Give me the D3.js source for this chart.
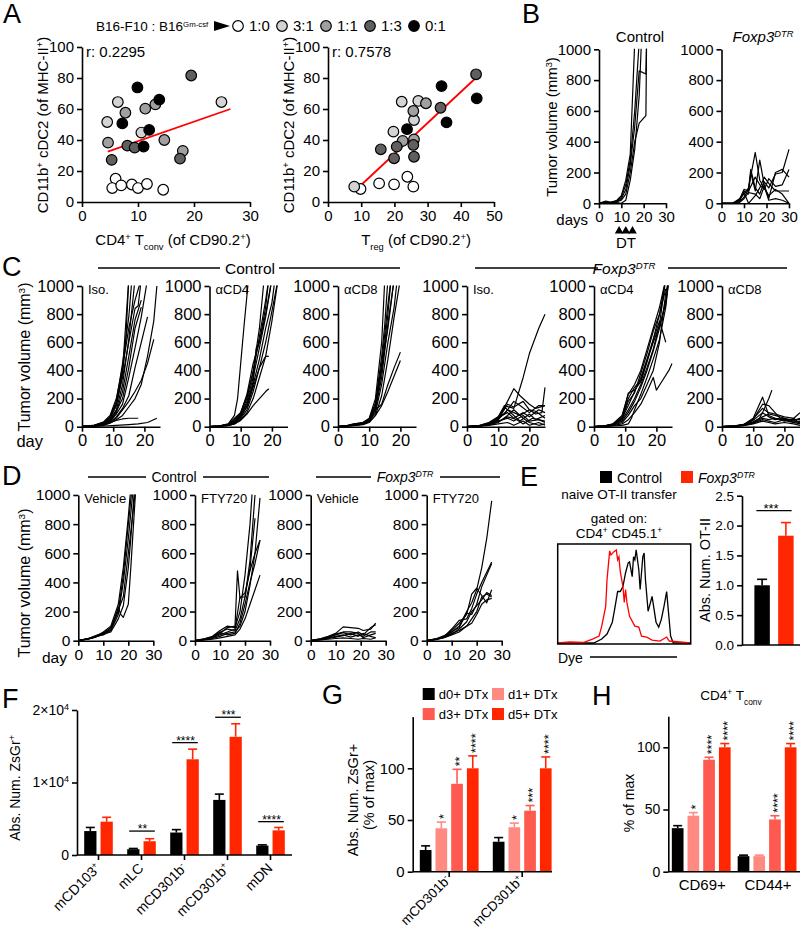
<!DOCTYPE html>
<html><head><meta charset="utf-8">
<script src="https://cdn.jsdelivr.net/npm/d3@7"></script>
<style>body{margin:0;background:#fff}svg{display:block}</style>
</head><body><script>
// ================= DATA =================
const ratioLabels = ["1:0","3:1","1:1","1:3","0:1"];
const ratioFills = ["#ffffff","#d4d4d4","#a0a0a0","#5f5f5f","#000000"];
// [x, y, ratioIndex]
const tconvPoints = [[6.0,15,0],[5.4,9,0],[7.0,10.7,0],[8.9,11.3,0],[10.0,9,0],[11.6,11.6,0],[14.5,7.9,0],
 [4.5,51.6,1],[6.4,64.5,1],[10.6,44.8,1],[24.9,64.5,1],
 [4.65,38.3,2],[7.75,57.6,2],[11.3,60.2,2],[13.1,63,2],[14.7,40,2],[18.0,33,2],
 [5.3,27.2,3],[8.1,36.4,3],[9.4,35.1,3],[17.5,28,3],[19.5,81.6,3],
 [9.9,73.9,4],[7.2,50.7,4],[12.0,46.5,4],[11.0,35.8,4],[13.8,66,4]];
const tregPoints = [[9.8,8.4,0],[15.4,12,0],[19.9,11.4,0],[23.9,16.3,0],[25.7,9.9,0],
 [7.9,9.9,1],[22.2,64.7,1],[19.7,45.4,1],[27.2,65.2,1],[25.9,52.9,1],
 [22.5,39.4,2],[29.5,63.7,2],[25.7,58.7,2],[25.9,40.4,2],
 [15.9,34,3],[20.7,35.7,3],[19.9,28.2,3],[25.7,36.8,3],[25.9,29.2,3],[33.9,60.8,3],[44.6,82.4,3],
 [23.8,47,4],[34.2,74.8,4],[35.7,51.4,4],[44.8,66.9,4]];
const tconvFit = [[4.6,32.5],[26.5,60]];
const tregFit = [[9.5,10],[44.5,80]];
const tconvR = "r: 0.2295", tregR = "r: 0.7578";

const volTicks = [0,200,400,600,800,1000];
const dtDays = [9,12,15];
// Panel B
const bControl = [
 [[0,0],[3,10],[5,5],[8,20],[10,50],[12,150],[14,320],[16,1050]],
 [[0,0],[3,15],[5,8],[8,15],[10,40],[12,120],[14,280],[16,600],[18,1050]],
 [[0,0],[3,5],[5,0],[8,10],[10,20],[12,60],[14,200],[16,400],[18,520],[21,570],[21.3,1050]],
 [[0,0],[3,8],[5,3],[8,10],[10,30],[12,90],[14,250],[16,500],[18,860],[21,840],[21.3,1050]],
 [[0,0],[3,5],[5,2],[8,5],[10,0],[12,20],[14,150],[16,350],[18,700],[19,1050]]];
const bDtr = [
 [[0,0],[5,0],[8,20],[10,80],[12,60],[13,200],[15,80],[17,280],[19,120],[21,30],[24,200],[27,220],[30,170]],
 [[0,0],[5,0],[8,30],[10,60],[12,100],[15,330],[17,150],[19,100],[21,50],[24,90],[27,60],[30,0]],
 [[0,0],[5,0],[8,10],[10,40],[12,90],[13,220],[15,100],[17,60],[19,140],[21,100],[24,190],[27,200],[30,350]],
 [[0,0],[5,0],[8,15],[10,70],[12,0],[15,50],[17,100],[19,170],[21,130],[24,80],[27,80],[30,80]],
 [[0,0],[6,0],[8,5],[10,30],[12,70],[15,60],[17,30],[19,110],[21,20],[24,30],[27,20],[30,0]],
 [[0,0],[5,0],[8,25],[10,90],[12,80],[15,170],[17,120],[19,90],[21,160],[24,110],[27,120],[30,220]]];
// Panel C
const cCtrlIso = [
 [[0,0],[4,10],[7,30],[9,60],[11,150],[13,400],[15,1050]],
 [[0,0],[4,8],[7,25],[9,50],[11,120],[13,300],[15,620],[17,1050]],
 [[0,0],[4,12],[7,35],[9,80],[11,200],[13,420],[15,700],[17,900],[19,1050]],
 [[0,0],[4,10],[7,30],[9,70],[11,160],[13,350],[15,600],[17,840],[18,860],[19,1050]],
 [[0,0],[4,10],[7,20],[9,40],[11,100],[13,250],[15,500],[17,760],[19,900]],
 [[0,0],[4,8],[7,20],[9,50],[11,110],[13,200],[15,420],[17,700],[19,850]],
 [[0,0],[4,5],[7,18],[9,40],[11,90],[13,160],[15,350],[17,560],[19,780],[21,1050]],
 [[0,0],[4,6],[7,15],[9,35],[11,70],[13,130],[15,220],[17,420],[19,600],[21,780]],
 [[0,0],[4,5],[7,12],[9,30],[11,60],[13,120],[15,180],[17,250],[19,330],[21,450],[23,620]],
 [[0,0],[4,5],[7,10],[9,25],[11,50],[13,80],[15,140],[17,200],[19,300],[21,500],[23,750],[24,1000]],
 [[0,0],[4,5],[7,15],[9,30],[11,45],[13,55],[15,60],[18,60]],
 [[0,0],[7,5],[11,10],[15,15],[18,20],[21,30],[24,60]],
 [[0,0],[4,10],[7,25],[9,60],[11,150],[13,380],[14,600],[15,1050]],
 [[0,0],[4,10],[7,30],[9,70],[11,180],[13,450],[15,780],[16,1050]]];
const cCtrlCD4 = [
 [[0,0],[3,5],[6,20],[8,80],[9,200],[10,450],[11,700],[12.5,1050]],
 [[0,0],[3,5],[6,15],[8,40],[10,90],[12,200],[14,400],[16,700],[17.5,1050]],
 [[0,0],[3,5],[6,15],[8,50],[10,100],[12,230],[14,450],[16,600],[18,850],[19,1050]],
 [[0,0],[3,4],[6,12],[8,35],[10,80],[12,180],[14,350],[16,560],[18,780],[20,1050]],
 [[0,0],[3,4],[6,12],[8,30],[10,70],[12,150],[14,300],[16,480],[18,700],[20,880],[21,1050]],
 [[0,0],[3,3],[6,10],[8,25],[10,60],[12,120],[14,250],[16,420],[18,600],[20,820],[22,1050]],
 [[0,0],[3,3],[6,10],[8,20],[10,50],[12,100],[14,200],[16,350],[18,500],[20,750],[22,1050]],
 [[0,0],[3,3],[6,8],[8,20],[10,45],[12,90],[14,150],[16,200],[18,250],[19,270]],
 [[0,0],[3,5],[6,15],[8,30],[10,70],[12,140],[14,280],[16,420],[18,500],[19,500]],
 [[0,0],[3,4],[6,12],[8,30],[10,90],[12,160],[14,320],[15,560],[16,600],[18,800],[20,1050]],
 [[0,0],[3,5],[6,18],[8,60],[10,100],[12,220],[14,380],[16,640],[18,900],[19,1050]]];
const cCtrlCD8 = [
 [[0,0],[3,10],[5,20],[8,30],[10,60],[12,200],[14,600],[15,1050]],
 [[0,0],[3,8],[5,15],[8,25],[10,50],[12,150],[14,450],[16,870],[17,1050]],
 [[0,0],[3,5],[5,12],[8,20],[10,45],[12,120],[14,350],[16,730],[18,1050]],
 [[0,0],[3,5],[5,12],[8,20],[10,40],[12,100],[14,300],[16,600],[18,850],[19,1050]],
 [[0,0],[3,6],[5,15],[8,25],[10,50],[12,130],[14,400],[16,800],[17,1050]],
 [[0,0],[3,5],[5,10],[8,18],[10,35],[12,80],[14,220],[16,480],[18,780],[20,1050]],
 [[0,0],[3,5],[5,10],[8,18],[10,40],[12,120],[14,160],[16,300],[18,420],[20,530]],
 [[0,0],[3,4],[5,8],[8,15],[10,30],[12,80],[14,150],[16,250],[18,360],[20,470]],
 [[0,0],[3,7],[5,18],[8,30],[10,55],[12,170],[14,500],[15,730],[16,1050]],
 [[0,0],[3,6],[5,14],[8,22],[10,45],[12,140],[14,420],[16,700],[18,1050]]];
const cDtrIso = [
 [[0,0],[4,10],[7,30],[10,70],[12,150],[15,130],[18,350],[20,520],[23,700],[25,800]],
 [[0,0],[4,8],[7,25],[10,60],[13,180],[15,270],[17,220],[20,160],[22,130],[25,150]],
 [[0,0],[4,5],[7,20],[10,50],[13,120],[15,100],[17,80],[20,120],[22,90],[24,100],[25,280]],
 [[0,0],[4,6],[7,20],[10,60],[12,90],[15,180],[17,150],[20,100],[23,150],[25,150]],
 [[0,0],[4,5],[7,15],[10,40],[13,60],[15,40],[18,80],[20,40],[23,50],[25,30]],
 [[0,0],[4,5],[7,18],[10,45],[12,140],[15,80],[17,40],[20,90],[22,50],[25,80]],
 [[0,0],[4,5],[7,12],[10,30],[13,80],[15,120],[18,60],[20,30],[23,10],[25,20]],
 [[0,0],[4,6],[7,20],[10,70],[13,100],[15,60],[18,100],[20,70],[23,120],[25,100]],
 [[0,0],[4,4],[7,10],[10,20],[13,30],[15,10],[18,40],[20,10],[23,30],[25,10]],
 [[0,0],[4,5],[7,15],[10,50],[13,160],[15,140],[18,180],[20,120],[22,110],[25,60]],
 [[0,0],[4,5],[7,14],[10,35],[13,70],[16,50],[18,20],[21,60],[25,40]]];
const cDtrCD4 = [
 [[0,0],[3,5],[6,20],[9,80],[11,230],[13,300],[15,400],[17,550],[19,700],[21,850],[23,1050]],
 [[0,0],[3,5],[6,15],[9,60],[11,150],[13,250],[15,350],[17,480],[19,620],[21,800],[23,1050]],
 [[0,0],[3,4],[6,12],[9,50],[11,120],[13,200],[15,300],[17,420],[19,550],[21,730],[23,1050]],
 [[0,0],[3,5],[6,15],[9,70],[11,240],[13,260],[15,320],[17,460],[19,620],[21,750],[23,600]],
 [[0,0],[3,4],[6,10],[9,30],[11,80],[13,150],[15,200],[17,300],[19,400],[21,600],[23,950],[24,1050]],
 [[0,0],[3,3],[6,8],[9,20],[11,50],[13,100],[15,160],[17,250],[19,350],[20,260],[22,330],[24,400],[25,450]],
 [[0,0],[3,4],[6,12],[9,40],[11,100],[13,180],[15,280],[17,400],[19,540],[21,700],[23,900],[24,1050]],
 [[0,0],[3,5],[6,14],[9,55],[11,180],[13,240],[15,380],[17,520],[19,680],[21,800],[23,980]],
 [[0,0],[3,2],[6,5],[9,10],[11,20],[12,60],[13,120],[15,230],[17,350],[19,480],[21,620],[23,850],[24,1050]],
 [[0,0],[3,5],[6,16],[9,65],[11,200],[13,280],[15,330],[17,470],[19,600],[21,720],[23,870],[24,1050]]];
const cDtrCD8 = [
 [[0,0],[4,5],[7,15],[10,60],[13,210],[15,80],[17,60],[20,50],[23,40],[25,30]],
 [[0,0],[4,5],[7,15],[10,50],[13,160],[15,150],[17,100],[19,50],[21,40],[25,20]],
 [[0,0],[4,5],[7,12],[10,30],[12,60],[13,100],[15,200],[16,260]],
 [[0,0],[4,4],[7,10],[10,30],[13,60],[15,50],[17,60],[20,40],[23,60],[25,100]],
 [[0,0],[4,5],[7,14],[10,45],[13,100],[15,70],[17,50],[20,60],[23,30],[25,40]],
 [[0,0],[4,4],[7,10],[10,25],[13,50],[15,40],[17,30],[20,50],[23,50],[25,50]],
 [[0,0],[4,6],[7,16],[10,55],[13,130],[15,100],[17,90],[20,70],[23,60],[25,20]],
 [[0,0],[4,3],[7,8],[10,20],[13,40],[15,30],[17,20],[20,30],[23,20],[25,10]],
 [[0,0],[4,5],[7,14],[10,35],[13,70],[15,90],[17,80],[20,60],[23,45],[25,60]]];
// Panel D
const dCtrlVeh = [
 [[0,0],[4,15],[7,30],[10,40],[13,70],[16,180],[18,400],[20,700],[22,1050]],
 [[0,0],[4,15],[7,30],[10,50],[13,90],[16,200],[18,450],[20,800],[21.5,1050]],
 [[0,0],[4,12],[7,25],[10,45],[13,60],[16,150],[18,240],[20,500],[21,700],[22.5,1050]],
 [[0,0],[4,12],[7,25],[10,50],[13,80],[16,230],[17,180],[18,160],[20,250],[21,500],[23,1050]],
 [[0,0],[4,10],[7,28],[10,60],[13,100],[16,250],[18,500],[20,850],[21,1050]],
 [[0,0],[4,14],[7,35],[10,55],[13,70],[16,210],[18,300],[20,600],[22,900],[23,1050]]];
const dCtrlFty = [
 [[0,0],[4,15],[7,30],[10,70],[13,100],[16,90],[18,200],[20,450],[22,800],[23,1050]],
 [[0,0],[4,10],[7,20],[10,40],[13,60],[16,80],[18,300],[20,300],[22,550],[24,1000]],
 [[0,0],[4,10],[7,25],[10,60],[13,80],[16,70],[18,150],[20,300],[22,500],[24,840]],
 [[0,0],[4,8],[7,15],[10,30],[13,50],[16,60],[18,100],[20,200],[22,380],[24,600],[26,980]],
 [[0,0],[4,5],[7,10],[10,20],[13,30],[16,40],[18,80],[20,150],[22,250],[24,350],[26,450]],
 [[0,0],[4,10],[7,20],[10,50],[13,90],[16,100],[17,480],[18,290],[20,330],[22,480],[24,600],[26,690]],
 [[0,0],[4,12],[7,25],[10,55],[13,40],[16,50],[18,120],[20,250],[22,400],[24,530],[26,690]]];
const dDtrVeh = [
 [[0,0],[4,15],[7,30],[10,50],[13,95],[16,90],[19,85],[21,70],[24,80],[26,120]],
 [[0,0],[4,12],[7,25],[10,40],[13,55],[16,40],[19,60],[21,40],[24,90],[26,110]],
 [[0,0],[4,10],[7,20],[10,30],[13,40],[16,25],[19,40],[21,30],[24,60],[26,60]],
 [[0,0],[4,8],[7,15],[10,25],[13,35],[16,50],[19,30],[21,50],[24,30],[26,20]],
 [[0,0],[4,10],[7,22],[10,45],[13,60],[16,60],[19,50],[21,20],[24,40],[26,50]],
 [[0,0],[4,5],[7,10],[10,15],[13,20],[16,15],[19,10],[21,15],[24,10],[26,20]]];
const dDtrFty = [
 [[0,0],[4,15],[7,35],[10,60],[13,100],[16,200],[18,260],[20,350],[22,500],[24,700],[26,960]],
 [[0,0],[4,12],[7,30],[10,80],[13,140],[16,150],[18,220],[20,320],[22,400],[24,470],[26,540]],
 [[0,0],[4,10],[7,25],[10,60],[13,90],[16,190],[18,180],[20,250],[22,370],[24,450],[26,530]],
 [[0,0],[4,10],[7,25],[10,50],[13,70],[16,100],[18,150],[20,200],[22,300],[24,320],[26,300]],
 [[0,0],[4,8],[7,20],[10,40],[13,60],[16,100],[18,120],[20,180],[22,250],[24,280],[26,290]],
 [[0,0],[4,12],[7,28],[10,70],[13,120],[16,180],[18,320],[20,360],[22,310],[24,260],[26,350]],
 [[0,0],[4,10],[7,22],[10,45],[13,80],[16,130],[18,200],[20,240],[22,280],[24,330],[26,310]]];
// Panel E histogram (dye fraction, normalized count)
const histRed = [[0,0],[0.09,0.01],[0.19,0.005],[0.26,0.04],[0.31,0.07],[0.33,0.17],[0.36,0.37],[0.37,0.64],[0.39,0.93],[0.40,0.89],[0.42,0.92],[0.44,0.94],[0.45,0.84],[0.46,0.87],[0.47,0.72],[0.49,0.57],[0.50,0.41],[0.51,0.54],[0.52,0.41],[0.54,0.27],[0.58,0.17],[0.61,0.16],[0.63,0.07],[0.67,0.06],[0.71,0.03],[0.77,0.02],[0.82,0.06],[0.84,0.02],[1,0]];
const histBlack = [[0,0],[0.27,0],[0.33,0.04],[0.37,0.09],[0.41,0.21],[0.43,0.36],[0.45,0.52],[0.47,0.52],[0.49,0.57],[0.51,0.71],[0.53,0.81],[0.54,0.82],[0.56,0.67],[0.57,0.87],[0.58,0.84],[0.59,0.94],[0.61,0.74],[0.62,0.54],[0.64,0.87],[0.65,0.91],[0.66,0.64],[0.68,0.32],[0.71,0.47],[0.74,0.21],[0.76,0.16],[0.78,0.24],[0.80,0.37],[0.82,0.52],[0.83,0.37],[0.85,0.07],[0.87,0],[1,0]];
const eGroups = ["Control","Foxp3DTR"];
const eValues = [1.0, 1.83];
const eErr = [0.1, 0.22];
const eSig = "***";
const eTicks = [0,0.5,1.0,1.5,2.0,2.5];
// Panel F
const fCategories = ["mCD103+","mLC","mCD301b-","mCD301b+","mDN"];
const fControl = [3300,800,3100,7600,1300];
const fControlErr = [500,100,400,800,100];
const fDtr = [4600,1900,13200,16300,3400];
const fDtrErr = [600,350,1400,1800,400];
const fSig = ["","**","****","***","****"];
const fSigLevel = [0,3300,15500,19000,4600];
const fTicks = [0,10000,20000];
// Panel G
const gSeries = ["d0+ DTx","d1+ DTx","d3+ DTx","d5+ DTx"];
const seriesColors = ["#000000","#ff8a82","#ff5a4f","#ff2600"];
const gCategories = ["mCD301b-","mCD301b+"];
const gValues = [[21,42,85,100],[29,43,59,100]];
const gErr = [[4,6,14,12],[4,4,5,11]];
const gSig = [["","*","**","****"],["","*","***","****"]];
// Panel H
const hCategories = ["CD69+","CD44+"];
const hValues = [[35,45,90,100],[12.5,12.5,42,100]];
const hErr = [[2,2.5,2,3],[0.8,0.8,3,3]];
const hSig = [["","*","****","****"],["","","****","****"]];
const RED = "#ff2600";

// ================= DRAWING =================
const FONT = "'Liberation Sans', Arial, Helvetica, sans-serif";
const svg = d3.select("body").append("svg").attr("width",800).attr("height",930).attr("font-family",FONT);
let clipN = 0;

function rtext(x, y, parts, o = {}) {
  const fs = o.fs || 14;
  const t = svg.append("text").attr("x", x).attr("y", y).attr("font-size", fs)
    .attr("text-anchor", o.anchor || "start").attr("fill", "#000");
  if (o.rotate != null) t.attr("transform", `rotate(${o.rotate},${x},${y})`);
  if (o.italic) t.attr("font-style", "italic");
  (typeof parts === "string" ? [parts] : parts).forEach(p => {
    if (typeof p === "string") t.append("tspan").text(p);
    else {
      const s = t.append("tspan").text(p.t);
      const sc = p.scale || 0.62;
      if (p.sup) s.attr("baseline-shift", "super").attr("font-size", fs * sc);
      if (p.sub) s.attr("baseline-shift", "sub").attr("font-size", fs * sc);
      if (p.i) s.attr("font-style", "italic");
    }
  });
  return t;
}
function signParts(label) {
  const last = label.slice(-1);
  if (last === "+" || last === "-") return [label.slice(0, -1), {t: last, sup: true}];
  return [label];
}
function styleAxis(g, fs) {
  g.attr("font-family", FONT).attr("font-size", fs);
  g.select(".domain").attr("stroke", "#000").attr("stroke-width", 1.6);
  g.selectAll(".tick line").attr("stroke", "#000").attr("stroke-width", 1.6);
  g.selectAll(".tick text").attr("fill", "#000");
}
function leftAxis(scale, x, ticks, fs, fmt) {
  const a = d3.axisLeft(scale).tickValues(ticks).tickSize(5).tickSizeOuter(0).tickPadding(3).tickFormat(fmt || d3.format("d"));
  const g = svg.append("g").attr("transform", `translate(${x},0)`).call(a);
  styleAxis(g, fs); return g;
}
function bottomAxis(scale, y, ticks, fs, fmt) {
  const a = d3.axisBottom(scale).tickValues(ticks).tickSize(5).tickSizeOuter(0).tickPadding(3).tickFormat(fmt || d3.format("d"));
  const g = svg.append("g").attr("transform", `translate(0,${y})`).call(a);
  styleAxis(g, fs); return g;
}
function hline(x1, x2, y, w = 1.3) {
  svg.append("line").attr("x1", x1).attr("x2", x2).attr("y1", y).attr("y2", y).attr("stroke", "#000").attr("stroke-width", w);
}
function panelLetter(l, x, y) { rtext(x, y, l, {fs: 27}); }

// ---------- A ----------
panelLetter("A", 3, 23);
rtext(96, 31, ["B16-F10 : B16", {t: "Gm-csf", sup: true, scale: 0.58}], {fs: 13.5});
svg.append("path").attr("d", "M214,21 L230,26 L214,31 Z").attr("fill", "#000");
const legX = [238, 282, 326, 370, 414];
ratioLabels.forEach((r, i) => {
  svg.append("circle").attr("cx", legX[i]).attr("cy", 26).attr("r", 5.3)
    .attr("fill", ratioFills[i]).attr("stroke", "#000").attr("stroke-width", 1.2);
  rtext(legX[i] + 11, 31, r, {fs: 15});
});
function scatter(pts, fit, r, x0, w, xMax, xTicks, xlab, xlabX) {
  const x = d3.scaleLinear().domain([0, xMax]).range([x0, x0 + w]);
  const y = d3.scaleLinear().domain([0, 100]).range([202, 47]);
  leftAxis(y, x0, [0, 20, 40, 60, 80, 100], 15);
  bottomAxis(x, 202, xTicks, 15);
  svg.append("line").attr("x1", x(fit[0][0])).attr("y1", y(fit[0][1])).attr("x2", x(fit[1][0])).attr("y2", y(fit[1][1]))
    .attr("stroke", "#ff0000").attr("stroke-width", 1.8);
  svg.append("g").selectAll("circle").data(pts).join("circle")
    .attr("cx", d => x(d[0])).attr("cy", d => y(d[1])).attr("r", 5.3)
    .attr("fill", d => ratioFills[d[2]]).attr("stroke", "#000").attr("stroke-width", 1.2);
  rtext(x0 + 4, 57, r, {fs: 15});
  rtext(x0 - 34, 125, ["CD11b", {t: "+", sup: true}, " cDC2 (of MHC-II", {t: "+", sup: true}, ")"], {fs: 15, anchor: "middle", rotate: -90});
  rtext(xlabX, 245, xlab, {fs: 15, anchor: "middle"});
}
scatter(tconvPoints, tconvFit, tconvR, 82, 168, 30, [0, 10, 20, 30],
  ["CD4", {t: "+", sup: true}, " T", {t: "conv", sub: true}, " (of CD90.2", {t: "+", sup: true}, ")"], 173);
scatter(tregPoints, tregFit, tregR, 328, 166, 50, [0, 10, 20, 30, 40, 50],
  ["T", {t: "reg", sub: true}, " (of CD90.2", {t: "+", sup: true}, ")"], 416);

// ---------- growth helper ----------
function growth(o) {
  const x = d3.scaleLinear().domain([0, o.xMax]).range([o.x0, o.x0 + o.w]);
  const y = d3.scaleLinear().domain([0, 1000]).range([o.yBot, o.yTop]);
  const id = "clip" + (clipN++);
  svg.append("clipPath").attr("id", id).append("rect").attr("x", o.x0).attr("y", o.yTop - 0.5)
    .attr("width", o.w + 4).attr("height", o.yBot - o.yTop + 1);
  svg.append("g").attr("clip-path", `url(#${id})`).selectAll("path").data(o.lines).join("path")
    .attr("d", d3.line().x(d => x(d[0])).y(d => y(d[1])))
    .attr("fill", "none").attr("stroke", "#000").attr("stroke-width", 1.2).attr("stroke-linejoin", "round");
  leftAxis(y, o.x0, volTicks, o.fs);
  bottomAxis(x, o.yBot, o.xTicks, o.fs);
  if (o.label) rtext(o.x0 + 6, o.yTop + 7.5, o.label, {fs: 13});
  return {x, y};
}
const volLabel = ["Tumor volume (mm", {t: "3", sup: true}, ")"];
const dtrTitle = ["Foxp3", {t: "DTR", sup: true}];

// ---------- B ----------
panelLetter("B", 522, 23);
const bc = growth({x0: 599, w: 67, xMax: 30, yTop: 49.3, yBot: 203.3, xTicks: [0, 10, 20, 30], lines: bControl, fs: 15});
growth({x0: 721.5, w: 67.5, xMax: 30, yTop: 49.3, yBot: 203.3, xTicks: [0, 10, 20, 30], lines: bDtr, fs: 15});
rtext(640, 42, "Control", {fs: 15, anchor: "middle"});
rtext(763, 42, dtrTitle, {fs: 15, anchor: "middle", italic: true});
rtext(557, 127, volLabel, {fs: 15, anchor: "middle", rotate: -90});
rtext(588, 225, "days", {fs: 15, anchor: "end"});
svg.append("g").selectAll("path").data(dtDays).join("path")
  .attr("transform", d => `translate(${bc.x(d)},231)`).attr("d", d3.symbol(d3.symbolTriangle, 32)).attr("fill", "#000");
rtext(626, 248, "DT", {fs: 15, anchor: "middle"});

// ---------- C ----------
panelLetter("C", 2, 276);
const cAxes = [82, 209.5, 338, 467, 594, 722];
const cLines = [cCtrlIso, cCtrlCD4, cCtrlCD8, cDtrIso, cDtrCD4, cDtrCD8];
const cLabels = ["Iso.", "αCD4", "αCD8", "Iso.", "αCD4", "αCD8"];
cAxes.forEach((x0, i) => growth({x0, w: 78, xMax: 25, yTop: 286, yBot: 426.7, xTicks: [0, 10, 20], lines: cLines[i], label: cLabels[i], fs: 16.5}));
hline(98, 220, 268); rtext(250, 274, "Control", {fs: 15.5, anchor: "middle"}); hline(279, 400, 268);
hline(475, 598, 268); rtext(624, 274, dtrTitle, {fs: 15.5, anchor: "middle", italic: true}); hline(668, 787, 268);
rtext(30, 357, volLabel, {fs: 16, anchor: "middle", rotate: -90});
rtext(43, 447, "day", {fs: 16.5, anchor: "end"});

// ---------- D ----------
panelLetter("D", 2, 485);
const dAxes = [78.3, 195, 310.7, 426.7];
const dLines = [dCtrlVeh, dCtrlFty, dDtrVeh, dDtrFty];
const dLabels = ["Vehicle", "FTY720", "Vehicle", "FTY720"];
dAxes.forEach((x0, i) => growth({x0, w: 75, xMax: 30, yTop: 495, yBot: 640.7, xTicks: [0, 10, 20, 30], lines: dLines[i], label: dLabels[i], fs: 15.5}));
hline(88, 146, 477); rtext(174, 482, "Control", {fs: 14, anchor: "middle"}); hline(203, 269, 477);
hline(316, 371, 477); rtext(405, 482, dtrTitle, {fs: 14, anchor: "middle", italic: true}); hline(440, 500, 477);
rtext(30, 583, volLabel, {fs: 16, anchor: "middle", rotate: -90});
rtext(67, 663, "day", {fs: 15.5, anchor: "end"});

// ---------- E ----------
panelLetter("E", 520, 486);
svg.append("rect").attr("x", 600).attr("y", 471).attr("width", 12).attr("height", 12).attr("fill", "#000");
rtext(617, 483, "Control", {fs: 14});
svg.append("rect").attr("x", 681).attr("y", 471).attr("width", 12).attr("height", 12).attr("fill", RED);
rtext(698, 483, dtrTitle, {fs: 14, italic: true});
rtext(619, 499, "naive OT-II transfer", {fs: 13.5, anchor: "middle"});
rtext(619, 523, "gated on:", {fs: 13.5, anchor: "middle"});
rtext(619, 538, ["CD4", {t: "+", sup: true}, " CD45.1", {t: "+", sup: true}], {fs: 13.5, anchor: "middle"});
const hx = d3.scaleLinear().domain([0, 1]).range([558, 690.5]);
const hy = d3.scaleLinear().domain([0, 1]).range([643, 544]);
const hl = d3.line().x(d => hx(d[0])).y(d => hy(d[1]));
svg.append("path").attr("d", hl(histBlack)).attr("fill", "none").attr("stroke", "#000").attr("stroke-width", 1.3);
svg.append("path").attr("d", hl(histRed)).attr("fill", "none").attr("stroke", "#ff0000").attr("stroke-width", 1.3);
svg.append("rect").attr("x", 557.7).attr("y", 544).attr("width", 133).attr("height", 100)
  .attr("fill", "none").attr("stroke", "#000").attr("stroke-width", 1.5);
rtext(558, 663, "Dye", {fs: 14});
hline(590, 677, 657, 1.3);
const ey = d3.scaleLinear().domain([0, 2.5]).range([645, 495.7]);
const ex = d3.scaleBand().domain(eGroups).range([752, 796]).paddingInner(0.35).paddingOuter(0.1);
function errBar(cx, yVal, yTop, color, capW) {
  svg.append("line").attr("x1", cx).attr("x2", cx).attr("y1", yVal).attr("y2", yTop).attr("stroke", color).attr("stroke-width", 1.6);
  svg.append("line").attr("x1", cx - capW / 2).attr("x2", cx + capW / 2).attr("y1", yTop).attr("y2", yTop).attr("stroke", color).attr("stroke-width", 1.6);
}
eGroups.forEach((gname, i) => {
  const c = i === 0 ? "#000" : RED;
  errBar(ex(gname) + ex.bandwidth() / 2, ey(eValues[i]), ey(eValues[i] + eErr[i]), c, 10);
  svg.append("rect").attr("x", ex(gname)).attr("y", ey(eValues[i])).attr("width", ex.bandwidth())
    .attr("height", ey(0) - ey(eValues[i])).attr("fill", c);
});
leftAxis(ey, 742, eTicks, 13.5, d3.format(".1f"));
hline(742, 800, 645, 1.6);
hline(ex(eGroups[0]) + 2, ex(eGroups[1]) + ex.bandwidth() - 2, ey(2.25), 1.3);
rtext(771, ey(2.25) + 2, eSig, {fs: 13, anchor: "middle"});
rtext(710, 570, "Abs. Num. OT-II", {fs: 14.5, anchor: "middle", rotate: -90});

// ---------- F ----------
panelLetter("F", 2, 708);
const fy = d3.scaleLinear().domain([0, 20000]).range([855, 710]);
const fx = d3.scaleBand().domain(fCategories).range([77, 292]);
const fsub = d3.scaleBand().domain(["ctrl", "dtr"]).range([-14.3, 14.3]).paddingInner(0.25);
fCategories.forEach((cat, i) => {
  const c0 = fx(cat) + fx.bandwidth() / 2;
  [["ctrl", fControl[i], fControlErr[i], "#000"], ["dtr", fDtr[i], fDtrErr[i], RED]].forEach(([k, v, e, col]) => {
    const bx = c0 + fsub(k);
    errBar(bx + fsub.bandwidth() / 2, fy(v), fy(v + e), col, 9);
    svg.append("rect").attr("x", bx).attr("y", fy(v)).attr("width", fsub.bandwidth()).attr("height", fy(0) - fy(v)).attr("fill", col);
  });
  svg.append("line").attr("x1", c0).attr("x2", c0).attr("y1", 855).attr("y2", 860).attr("stroke", "#000").attr("stroke-width", 1.6);
  rtext(c0 + 3, 869, signParts(cat), {fs: 14, anchor: "end", rotate: -45});
  if (fSig[i]) {
    const sy = fy(fSigLevel[i]);
    hline(c0 + fsub("ctrl") + 2, c0 + fsub("dtr") + fsub.bandwidth() - 1, sy, 1.3);
    rtext(c0 + 1, sy + 2, fSig[i], {fs: 12, anchor: "middle"});
  }
});
const fAx = leftAxis(fy, 77, fTicks, 14);
fAx.selectAll(".tick text").each(function(d) {
  const t = d3.select(this); t.text(null);
  if (d === 0) t.text("0");
  else { t.append("tspan").text((d / 10000) + "×10"); t.append("tspan").attr("baseline-shift", "super").attr("font-size", 9).text("4"); }
});
hline(77, 292, 855, 1.6);
rtext(20, 788, ["Abs. Num. ZsGr", {t: "+", sup: true}], {fs: 14, anchor: "middle", rotate: -90});

// ---------- G & H grouped bars ----------
function grouped(o) {
  const x = d3.scaleBand().domain(o.cats).range(o.xr);
  const sub = d3.scaleBand().domain(gSeries).range([-29.4, 29.4]).paddingInner(0.255);
  o.cats.forEach((cat, ci) => {
    const c0 = x(cat) + x.bandwidth() / 2;
    gSeries.forEach((s, si) => {
      const bx = c0 + sub(s), v = o.vals[ci][si], e = o.errs[ci][si], col = seriesColors[si];
      const cx = bx + sub.bandwidth() / 2;
      errBar(cx, o.y(v), o.y(v + e), col, 9);
      svg.append("rect").attr("x", bx).attr("y", o.y(v)).attr("width", sub.bandwidth()).attr("height", o.y(0) - o.y(v)).attr("fill", col);
      const sg = o.sig[ci][si];
      if (sg) svg.append("text").attr("transform", `translate(${cx + 7},${o.y(v + e) - 3}) rotate(-90)`)
        .attr("font-size", 12.5).attr("fill", "#000").text(sg);
    });
    if (o.tickLabels === "rot") {
      svg.append("line").attr("x1", c0).attr("x2", c0).attr("y1", 871.7).attr("y2", 877).attr("stroke", "#000").attr("stroke-width", 1.6);
      rtext(c0 + 2, 881, signParts(cat), {fs: 13.5, anchor: "end", rotate: -45});
    } else {
      rtext(c0 + 1, 890, cat, {fs: 15, anchor: "middle"});
    }
  });
  leftAxis(o.y, o.xr[0], [0, 50, 100], o.fs);
  hline(o.xr[0], o.axEnd, 871.7, 1.6);
}
panelLetter("G", 322, 704);
gSeries.forEach((s, i) => {
  const lx = i % 2 === 0 ? 422.7 : 492, ly = i < 2 ? 688 : 708;
  svg.append("rect").attr("x", lx).attr("y", ly).attr("width", 12).attr("height", 12).attr("fill", seriesColors[i]);
  rtext(lx + 16, ly + 11, s, {fs: 13});
});
const gy = d3.scaleLinear().domain([0, 150]).range([871.7, 716.6]);
grouped({cats: gCategories, xr: [412.7, 558.7], axEnd: 552, y: gy, vals: gValues, errs: gErr, sig: gSig, tickLabels: "rot", fs: 15});
rtext(358, 800, ["Abs. Num. ZsGr+"], {fs: 14.5, anchor: "middle", rotate: -90});
rtext(374, 795, ["(% of max)"], {fs: 14.5, anchor: "middle", rotate: -90});

panelLetter("H", 592, 705);
rtext(731, 700, ["CD4", {t: "+", sup: true}, " T", {t: "conv", sub: true}], {fs: 13.5, anchor: "middle"});
const hyS = d3.scaleLinear().domain([0, 125]).range([871.7, 716.2]);
grouped({cats: hCategories, xr: [668.3, 800], axEnd: 800, y: hyS, vals: hValues, errs: hErr, sig: hSig, tickLabels: "flat", fs: 14});
rtext(634, 803, "% of max", {fs: 14, anchor: "middle", rotate: -90});
</script></body></html>
